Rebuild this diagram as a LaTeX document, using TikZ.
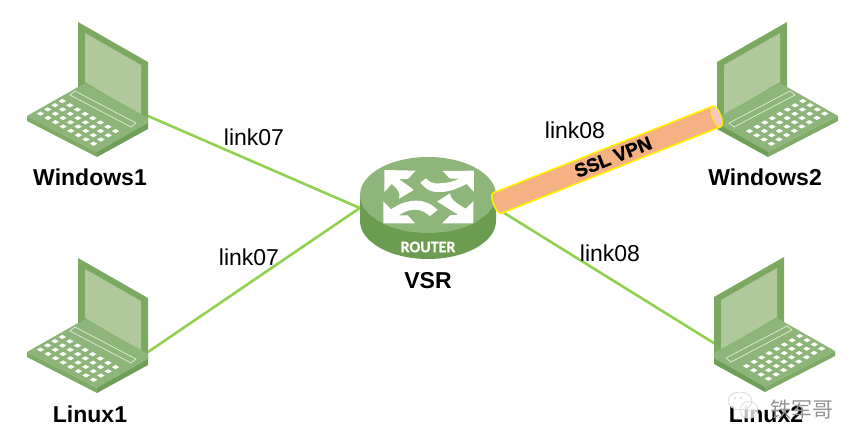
\documentclass[tikz,border=0pt]{standalone}
\usepackage{fontspec}
\setmainfont{Liberation Sans}
\newfontfamily\routerfont[BoldFeatures={FakeBold=1}]{Carlito}
\newfontfamily\sslfont[BoldFeatures={FakeBold=1.5}]{Liberation Sans}
\newfontfamily\cjkfont{Noto Sans CJK SC}
\usetikzlibrary{shapes.geometric}

\definecolor{lidgreen}{HTML}{7BA962}
\definecolor{screengreen}{HTML}{AFC99C}
\definecolor{basegreen}{HTML}{8DB579}
\definecolor{sidegreen}{HTML}{6E9E58}
\definecolor{sidelight}{HTML}{7FAB69}
\definecolor{routertop}{HTML}{8FB67A}
\definecolor{routerside}{HTML}{6C9C50}
\definecolor{linkgreen}{HTML}{92D050}
\definecolor{tubefill}{HTML}{F4B183}
\definecolor{tubeend}{HTML}{F3C6C4}

\tikzset{
  linkline/.style={draw=linkgreen,line width=2.6pt},
  lbl/.style={font=\fontsize{23}{27}\selectfont,inner sep=0pt},
  namelbl/.style={font=\fontsize{23}{27}\selectfont\bfseries,inner sep=0pt},
  laptop/.pic={
    \fill[sidegreen] (97,150) -- (148,122) -- (148,129) -- (97,157) -- cycle;
    \fill[sidelight] (27,116) -- (97,152) -- (97,157) -- (27,121) -- cycle;
    \fill[basegreen] (27,116) -- (78,87) -- (148,123) -- (97,152) -- cycle;
    \fill[lidgreen] (78,22) -- (148,62) -- (148,123) -- (78,87) -- cycle;
    \fill[screengreen] (85,33) -- (141,65) -- (141,115) -- (85,82) -- cycle;
    \fill[basegreen] (78,87) -- (85,83) -- (148,118) -- (148,123) -- cycle;
    \draw[white!75!basegreen,line width=.7pt] (70,95) -- (75,91) -- (136,123) -- (131,127) -- cycle;
    \foreach \row in {0,...,3}
      \foreach \col in {0,...,7}
        \fill[white,shift={(62.3+7.6*\col-7.3*\row,101+4.3*\col+4.2*\row)}]
          (-3.7,0) -- (0,-2.1) -- (3.7,0) -- (0,2.1) -- cycle;
  }
}

\begin{document}
\begin{tikzpicture}[x=1pt,y=-1pt]
  \useasboundingbox (0,0) rectangle (859,446);

  \coordinate (win1) at (148,116);
  \coordinate (lin1) at (148,352);
  \coordinate (lin2) at (717,345);
  \node[ellipse,minimum width=136pt,minimum height=76pt,inner sep=0pt] (vsr) at (428,208) {};

  \foreach \from/\to in {win1/vsr.west,lin1/vsr.west,vsr.east/lin2}
    \draw[linkline] (\from) -- (\to);

  % router
  \fill[routerside] (360,195) -- (360,221) arc[start angle=180,end angle=360,x radius=68,y radius=-38]
    -- (496,195) -- cycle;
  \fill[routertop] (428,195) ellipse[x radius=68,y radius=38];
  \begin{scope}[shift={(375,160)},x=.3333pt,y=-.3333pt]
    \fill[white] (28,30) -- (122,32) -- (100,56) -- (72,58) .. controls (92,72) and (108,82) .. (116,90)
      -- (72,116) .. controls (78,95) and (62,82) .. (50,72) -- (28,96) -- cycle;
    \fill[white] (297,32) -- (203,33) -- (225,56) -- (252,56) .. controls (225,70) and (200,70) .. (180,70)
      .. controls (170,70) and (162,64) .. (153,55) -- (136,68) .. controls (155,92) and (175,98) .. (195,96)
      .. controls (225,96) and (250,84) .. (275,72) -- (297,96) -- cycle;
    \fill[white] (25,190) -- (120,190) -- (98,166) -- (72,166) .. controls (95,150) and (115,147) .. (130,150)
      .. controls (142,152) and (155,160) .. (165,168) -- (188,150) .. controls (165,128) and (145,122) .. (125,122)
      .. controls (95,122) and (70,133) .. (48,148) -- (25,124) -- cycle;
    \fill[white] (295,190) -- (201,190) -- (225,166) -- (250,164) .. controls (225,150) and (205,135) .. (186,125)
      -- (225,100) .. controls (225,115) and (240,128) .. (272,146) -- (295,124) -- cycle;
  \end{scope}
  \node[text=white,font=\routerfont\bfseries\fontsize{16}{18}\selectfont,inner sep=0pt] (routertxt) at (428,247) {ROUTER};

  \pic at (0,0) {laptop};
  \pic at (0,236) {laptop};
  \pic[xscale=-1] at (865,0) {laptop};
  \pic[xscale=-1] at (862,235) {laptop};

  % vpn tube
  \begin{scope}[shift={(497.5,203)},rotate=21.55]
    \draw[fill=tubefill,draw=yellow,line width=1.6pt] (0,-11) -- (235.5,-11)
      .. controls (241,-11) and (241,11) .. (235.5,11) -- (0,11)
      .. controls (-5.5,11) and (-5.5,-11) .. (0,-11) -- cycle;
    \draw[fill=tubeend,draw=yellow,line width=1pt] (235.5,-11) .. controls (241,-11) and (241,11) .. (235.5,11)
      .. controls (230,11) and (230,-11) .. (235.5,-11) -- cycle;
  \end{scope}
  \node[font=\sslfont\bfseries\fontsize{19}{21}\selectfont,inner sep=0pt,rotate=21.55] (ssl) at (613,157) {SSL VPN};

  \node[lbl] (l1) at (254,137) {link07};
  \node[lbl] (l2) at (249,257) {link07};
  \node[lbl] (l3) at (575,130) {link08};
  \node[lbl] (l4) at (610,253) {link08};

  \node[namelbl] (n1) at (90,177) {Windows1};
  \node[namelbl] (n2) at (90,414) {Linux1};
  \node[namelbl] (n3) at (428,281) {VSR};
  \node[namelbl] (n4) at (765,177) {Windows2};
  \node[namelbl] (n5) at (766,414) {Linux2};

  % watermark
  \fill[white,opacity=.75] (740,401) ellipse[x radius=12,y radius=9];
  \fill[white,opacity=.75] (749,410) ellipse[x radius=9,y radius=8.5];
  \draw[gray!40,line width=.5pt] (740,401) ellipse[x radius=12,y radius=9];
  \draw[gray!40,line width=.5pt] (749,410) ellipse[x radius=9,y radius=8.5];
  \foreach \dx/\dy in {735/398,741/398,748/410,754/410}
    \fill[gray] (\dx,\dy) circle (.7);
  \node[font=\cjkfont\fontsize{21}{23}\selectfont,text=gray!85,inner sep=0pt] (mark) at (802,410) {铁军哥};
\end{tikzpicture}
\end{document}
